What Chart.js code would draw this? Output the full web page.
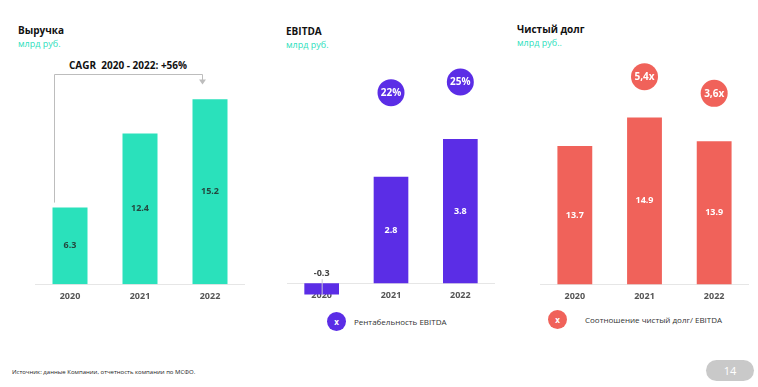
<!DOCTYPE html>
<html>
<head>
<meta charset="utf-8">
<script src="https://cdn.jsdelivr.net/npm/chart.js@4.4.1/dist/chart.umd.min.js"></script>
<style>
    html, body { margin: 0; padding: 0; background: #ffffff; }
    body { width: 758px; height: 387px; position: relative; overflow: hidden; font-family: "Open Sans", sans-serif; }
    canvas { position: absolute; }
    .title { position: absolute; font-size: 10px; font-weight: 700; color: #111; white-space: nowrap; }
    .unit { position: absolute; font-size: 9px; color: #2ee0bd; white-space: nowrap; }
    .cagr { position: absolute; font-size: 10px; font-weight: 700; color: #111; white-space: nowrap; transform: translate(-50%, -50%); }
    .legend { position: absolute; display: flex; align-items: center; font-size: 8px; color: #333; white-space: nowrap; }
    .legend .dot { width: 19px; height: 19px; border-radius: 50%; color: #fff; font-weight: 700; font-size: 8px;
        display: flex; align-items: center; justify-content: center; }
    .source { position: absolute; left: 12px; top: 368px; font-size: 6px; color: #222; white-space: nowrap; }
    .page { position: absolute; left: 706px; top: 360px; width: 48px; height: 21px; border-radius: 11px; background: #c9c9c9;
        color: #fff; font-size: 11px; display: flex; align-items: center; justify-content: center; }
</style>
</head>
<body>
<div class="title" style="left:18px; top:23px;">Выручка</div>
<div class="unit" style="left:18px; top:37px;">млрд руб.</div>
<div class="cagr" style="left:128px; top:65px;">CAGR&nbsp; 2020 - 2022: +56%</div>

<div class="title" style="left:286px; top:24px;">EBITDA</div>
<div class="unit" style="left:286px; top:38px;">млрд руб.</div>

<div class="title" style="left:517px; top:22px;">Чистый долг</div>
<div class="unit" style="left:517px; top:36px;">млрд руб..</div>

<canvas id="revenueChart" width="210" height="259" style="left:35px; top:50px;"></canvas>
<canvas id="ebitdaChart" width="208" height="256" style="left:287px; top:50px;"></canvas>
<canvas id="debtChart" width="209" height="259" style="left:540px; top:50px;"></canvas>

<div class="legend" style="left:327px; top:312px;"><div class="dot" style="background:#5b2de6;">x</div><span style="margin-left:8px;">Рентабельность EBITDA</span></div>
<div class="legend" style="left:548px; top:310px;"><div class="dot" style="background:#f0625a;">x</div><span style="margin-left:18px;">Соотношение чистый долг/ EBITDA</span></div>

<div class="source">Источник: данные Компании, отчетность компании по МСФО.</div>
<div class="page">14</div>

<script>
const years = ['2020', '2021', '2022'];
const revenue = [6.3, 12.4, 15.2];
const ebitda = [-0.3, 2.8, 3.8];
const ebitdaMargin = [null, 22, 25];
const netDebt = [13.7, 14.9, 13.9];
const debtToEbitda = [null, 5.4, 3.6];

const TEAL = '#2ae1bb';
const PURPLE = '#5b2de6';
const CORAL = '#f0625a';
const FONT = '"Open Sans", sans-serif';

// value labels inside bars and inside the circles
const labelPlugin = {
    id: 'labels',
    afterDatasetsDraw(chart, args, opts) {
        const ctx = chart.ctx;
        const bottom = chart.chartArea.bottom;
        ctx.save();
        ctx.textAlign = 'center';
        ctx.textBaseline = 'middle';
        ctx.font = `700 9px ${FONT}`;

        const bars = chart.getDatasetMeta(0).data;
        const values = chart.data.datasets[0].data;
        bars.forEach((bar, i) => {
            const v = values[i];
            const text = v.toFixed(1);
            if (v < 0) {
                ctx.strokeStyle = '#c9c4d6';
                ctx.lineWidth = 1;
                ctx.beginPath();
                ctx.moveTo(bar.x + 0.5, bar.base - 4);
                ctx.lineTo(bar.x + 0.5, bar.y);
                ctx.stroke();
                ctx.fillStyle = '#444';
                ctx.fillText(text, bar.x, bar.base - 10);
            } else {
                ctx.fillStyle = opts.color;
                ctx.fillText(text, bar.x, (bar.y + Math.min(bar.base, bottom)) / 2);
            }
        });

        if (chart.data.datasets.length > 1) {
            const points = chart.getDatasetMeta(1).data;
            const pointValues = chart.data.datasets[1].data;
            ctx.font = `700 10px ${FONT}`;
            ctx.fillStyle = '#ffffff';
            points.forEach((p, i) => {
                const v = pointValues[i];
                if (v === null) return;
                ctx.fillText(opts.format(v), p.x, p.y + 0.5);
            });
        }
        ctx.restore();
    }
};

// the grey CAGR bracket over the revenue bars
const bracketPlugin = {
    id: 'bracket',
    afterDatasetsDraw(chart, args, opts) {
        if (!opts.enabled) return;
        const bars = chart.getDatasetMeta(0).data;
        const first = bars[0];
        const last = bars[bars.length - 1];
        const left = first.x - 15.5;
        const right = last.x - 7.5;
        const top = 24.5;
        const ctx = chart.ctx;
        ctx.save();
        ctx.strokeStyle = '#bdbdbd';
        ctx.lineWidth = 1;
        ctx.beginPath();
        ctx.moveTo(left, first.y - 5);
        ctx.lineTo(left, top);
        ctx.lineTo(right, top);
        ctx.lineTo(right, top + 6);
        ctx.stroke();
        ctx.fillStyle = '#bdbdbd';
        ctx.beginPath();
        ctx.moveTo(right - 3.5, top + 5);
        ctx.lineTo(right + 3.5, top + 5);
        ctx.lineTo(right, top + 10);
        ctx.closePath();
        ctx.fill();
        ctx.restore();
    }
};

function xScale(position) {
    return {
        position: position,
        offset: true,
        grid: { display: false, drawTicks: false },
        border: { display: true, color: '#e6e6e6', width: 1 },
        ticks: { padding: 7, color: '#555', font: { family: FONT, size: 9, weight: '700' } }
    };
}

class BarPanel {
    constructor(canvasId, values, color, yRange) {
        this._canvasId = canvasId;
        this._values = values;
        this._color = color;
        this._yRange = yRange;
        this._circles = null;
        this._y2Range = null;
        this._labelColor = '#ffffff';
        this._format = v => String(v);
        this._xPosition = 'bottom';
        this._bracket = false;
    }

    withCircles(values, y2Range, format) {
        this._circles = values;
        this._y2Range = y2Range;
        this._format = format;
        return this;
    }

    withLabelColor(color) {
        this._labelColor = color;
        return this;
    }

    withAxisAtZero() {
        this._xPosition = { y: 0 };
        return this;
    }

    withBracket() {
        this._bracket = true;
        return this;
    }

    render() {
        const datasets = [{
            type: 'bar',
            data: this._values,
            backgroundColor: this._color,
            borderWidth: 0,
            barPercentage: 0.5,
            categoryPercentage: 1.0,
            yAxisID: 'y'
        }];
        const scales = {
            x: xScale(this._xPosition),
            y: { display: false, min: this._yRange[0], max: this._yRange[1] }
        };
        if (this._circles) {
            datasets.push({
                type: 'line',
                data: this._circles,
                showLine: false,
                pointRadius: 13.5,
                pointHoverRadius: 13.5,
                pointBackgroundColor: this._color,
                pointBorderWidth: 0,
                clip: false,
                yAxisID: 'y2'
            });
            scales.y2 = { display: false, position: 'right', min: this._y2Range[0], max: this._y2Range[1] };
        }
        return new Chart(this._canvasId, {
            type: 'bar',
            data: { labels: years, datasets: datasets },
            options: {
                responsive: false,
                devicePixelRatio: 1,
                animation: false,
                events: [],
                layout: { padding: 0, autoPadding: false },
                scales: scales,
                plugins: {
                    legend: { display: false },
                    tooltip: { enabled: false },
                    labels: { color: this._labelColor, format: this._format },
                    bracket: { enabled: this._bracket }
                }
            },
            plugins: [labelPlugin, bracketPlugin]
        });
    }
}

new BarPanel('revenueChart', revenue, TEAL, [0, 19.26])
    .withLabelColor('#24473f')
    .withBracket()
    .render();

new BarPanel('ebitdaChart', ebitda, PURPLE, [-0.6, 6.14])
    .withAxisAtZero()
    .withCircles(ebitdaMargin, [-37.8, 33.96], v => v + '%')
    .render();

new BarPanel('debtChart', netDebt, CORAL, [7.86, 17.75])
    .withCircles(debtToEbitda, [-17.08, 8.30], v => v.toFixed(1).replace('.', ',') + 'x')
    .render();
</script>
</body>
</html>
